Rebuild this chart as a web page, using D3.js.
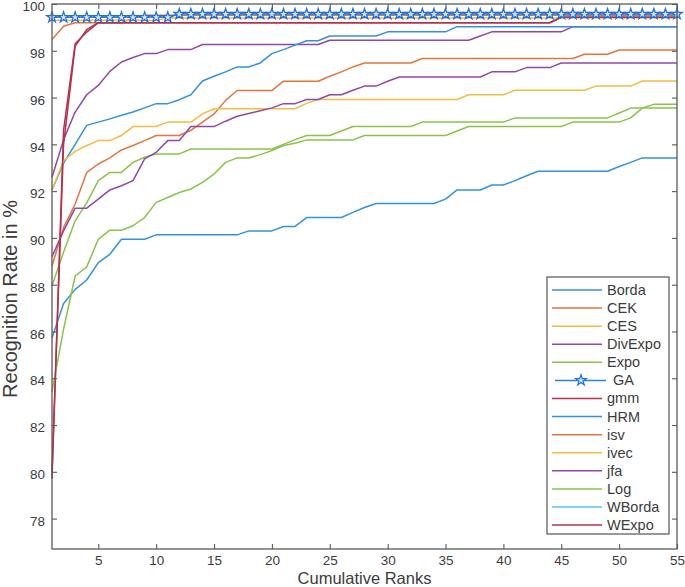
<!DOCTYPE html>
<html><head><meta charset="utf-8">
<script src="https://cdn.jsdelivr.net/npm/d3@7"></script>
<style>body{margin:0;background:#fff}svg{display:block}</style>
</head><body><svg id="c" width="685" height="587"></svg>
<script>
const ranks = d3.range(1, 56);
const seriesNames = ["Borda","CEK","CES","DivExpo","Expo","GA","gmm","HRM","isv","ivec","jfa","Log","WBorda","WExpo"];
const xTicks = [5,10,15,20,25,30,35,40,45,50,55];
const yTicks = [78,80,82,84,86,88,90,92,94,96,98,100];

const Borda = [85.72,87.2,87.8,88.2,88.94,89.3,89.94,89.94,89.94,90.13,
 90.13,90.13,90.13,90.13,90.13,90.13,90.13,90.3,90.3,90.3,
 90.49,90.49,90.87,90.87,90.87,90.87,91.09,91.3,91.47,91.47,
 91.47,91.47,91.47,91.47,91.66,92.05,92.05,92.05,92.26,92.26,
 92.45,92.66,92.85,92.85,92.85,92.85,92.85,92.85,92.85,93.05,
 93.23,93.42,93.42,93.42,93.42];
const CEK = [98.48,99.05,99.2,99.2,99.2,99.2,99.2,99.4,99.52,99.52,
 99.52,99.52,99.52,99.52,99.52,99.52,99.52,99.52,99.52,99.52,
 99.52,99.52,99.52,99.52,99.52,99.52,99.52,99.52,99.52,99.52,
 99.52,99.52,99.52,99.52,99.52,99.52,99.52,99.52,99.52,99.52,
 99.52,99.52,99.52,99.52,99.52,99.52,99.52,99.52,99.52,99.52,
 99.52,99.52,99.52,99.52,99.52];
const CES = [99.3,99.3,99.3,99.3,99.3,99.3,99.3,99.3,99.3,99.3,
 99.4,99.4,99.4,99.4,99.4,99.4,99.4,99.4,99.4,99.4,
 99.4,99.4,99.4,99.4,99.4,99.4,99.4,99.4,99.4,99.4,
 99.4,99.4,99.4,99.4,99.4,99.4,99.4,99.4,99.4,99.4,
 99.4,99.4,99.4,99.4,99.4,99.4,99.4,99.4,99.4,99.4,
 99.4,99.4,99.4,99.4,99.4];
const DivExpo = [92.59,94.2,95.38,96.12,96.52,97.12,97.52,97.71,97.88,97.88,
 98.05,98.05,98.05,98.27,98.27,98.27,98.27,98.27,98.27,98.27,
 98.27,98.27,98.27,98.27,98.45,98.45,98.45,98.45,98.45,98.45,
 98.45,98.45,98.45,98.45,98.45,98.45,98.45,98.63,98.81,98.81,
 98.81,98.81,98.81,98.81,98.81,99.03,99.03,99.03,99.03,99.03,
 99.03,99.03,99.03,99.03,99.03];
const Expo = [87.94,89.4,90.73,91.5,92.45,92.8,92.8,93.23,93.45,93.59,
 93.59,93.59,93.8,93.8,93.8,93.8,93.8,93.8,93.8,93.8,
 94.0,94.2,94.38,94.38,94.38,94.57,94.76,94.76,94.76,94.76,
 94.76,94.76,94.95,94.95,94.95,94.95,94.95,94.95,94.95,94.95,
 95.13,95.13,95.13,95.13,95.13,95.13,95.13,95.13,95.13,95.34,
 95.55,95.55,95.55,95.55,95.55];
const GA = [99.43,99.43,99.43,99.43,99.43,99.43,99.43,99.43,99.43,99.43,
 99.43,99.57,99.57,99.57,99.57,99.57,99.57,99.57,99.57,99.57,
 99.57,99.57,99.57,99.57,99.57,99.57,99.57,99.57,99.57,99.57,
 99.57,99.57,99.57,99.57,99.57,99.57,99.57,99.57,99.57,99.57,
 99.57,99.57,99.57,99.57,99.57,99.57,99.57,99.57,99.57,99.57,
 99.57,99.57,99.57,99.57,99.57];
const gmm = [80.0,94.0,98.2,98.9,99.2,99.2,99.2,99.2,99.2,99.2,
 99.2,99.2,99.2,99.2,99.2,99.2,99.2,99.2,99.2,99.2,
 99.2,99.2,99.2,99.2,99.2,99.2,99.2,99.2,99.2,99.2,
 99.2,99.2,99.2,99.2,99.2,99.2,99.2,99.2,99.2,99.2,
 99.2,99.2,99.2,99.2,99.43,99.43,99.43,99.43,99.43,99.43,
 99.43,99.43,99.43,99.43,99.43];
const HRM = [92.05,93.2,94.0,94.81,94.95,95.09,95.24,95.38,95.56,95.74,
 95.74,95.91,96.12,96.71,96.91,97.1,97.31,97.31,97.48,97.88,
 98.05,98.24,98.43,98.43,98.63,98.63,98.63,98.63,98.63,98.81,
 98.81,98.81,98.81,98.81,98.81,99.03,99.03,99.03,99.03,99.03,
 99.03,99.03,99.03,99.03,99.03,99.03,99.03,99.03,99.03,99.03,
 99.03,99.03,99.03,99.03,99.03];
const isv = [88.8,90.44,91.45,92.8,93.16,93.42,93.76,93.95,94.16,94.38,
 94.38,94.38,94.6,94.95,95.3,95.88,96.3,96.3,96.3,96.3,
 96.7,96.7,96.7,96.7,96.91,97.1,97.31,97.48,97.48,97.48,
 97.48,97.48,97.67,97.67,97.67,97.67,97.67,97.67,97.67,97.67,
 97.67,97.67,97.67,97.67,97.67,97.67,97.85,97.85,97.85,98.03,
 98.03,98.03,98.03,98.03,98.03];
const ivec = [92.05,93.3,93.7,93.95,94.16,94.16,94.38,94.76,94.76,94.76,
 94.95,94.95,94.95,95.3,95.52,95.52,95.52,95.52,95.52,95.52,
 95.52,95.52,95.75,95.92,95.92,95.92,95.92,95.92,95.92,95.92,
 95.92,95.92,95.92,95.92,95.92,95.92,96.12,96.12,96.12,96.12,
 96.31,96.31,96.31,96.31,96.31,96.31,96.31,96.49,96.49,96.49,
 96.49,96.71,96.71,96.71,96.71];
const jfa = [89.2,90.3,91.27,91.27,91.66,92.05,92.23,92.45,93.38,93.66,
 94.16,94.16,94.76,94.76,94.76,94.99,95.2,95.32,95.44,95.56,
 95.74,95.74,95.92,95.92,96.12,96.12,96.31,96.49,96.49,96.7,
 96.88,96.88,96.88,96.88,96.88,96.88,96.88,96.88,97.1,97.1,
 97.1,97.28,97.28,97.28,97.48,97.48,97.48,97.48,97.48,97.48,
 97.48,97.48,97.48,97.48,97.48];
const Log = [83.43,86.1,88.37,88.76,89.94,90.33,90.33,90.52,90.87,91.52,
 91.73,91.94,92.09,92.37,92.73,93.23,93.42,93.42,93.56,93.73,
 93.95,94.05,94.19,94.19,94.19,94.19,94.19,94.38,94.38,94.38,
 94.38,94.38,94.38,94.38,94.38,94.57,94.76,94.76,94.76,94.76,
 94.76,94.76,94.76,94.76,94.76,94.95,94.95,94.95,94.95,94.95,
 95.13,95.55,95.71,95.71,95.71];
const WBorda = [99.43,99.43,99.43,99.43,99.43,99.43,99.43,99.43,99.43,99.43,
 99.43,99.57,99.57,99.57,99.57,99.57,99.57,99.57,99.57,99.57,
 99.57,99.57,99.57,99.57,99.57,99.57,99.57,99.57,99.57,99.57,
 99.57,99.57,99.57,99.57,99.57,99.57,99.57,99.57,99.57,99.57,
 99.57,99.57,99.57,99.57,99.57,99.57,99.57,99.57,99.57,99.57,
 99.57,99.57,99.57,99.57,99.57];
const WExpo = [79.7,94.6,98.3,98.8,99.2,99.2,99.2,99.2,99.2,99.2,
 99.2,99.2,99.2,99.2,99.2,99.2,99.2,99.2,99.2,99.2,
 99.2,99.2,99.2,99.2,99.2,99.2,99.2,99.2,99.2,99.2,
 99.2,99.2,99.2,99.2,99.2,99.2,99.2,99.2,99.2,99.2,
 99.2,99.2,99.2,99.2,99.43,99.43,99.43,99.43,99.43,99.43,
 99.43,99.43,99.43,99.43,99.43];

const seriesValues = [Borda,CEK,CES,DivExpo,Expo,GA,gmm,HRM,isv,ivec,jfa,Log,WBorda,WExpo];
const colors = ["#3392dd","#e5743d","#f4bd3f","#9247a8","#8ac24a","#2f80e0","#b8304b",
                "#3392dd","#e5743d","#f4bd3f","#9247a8","#8ac24a","#55c3ee","#b8304b"];

const svg = d3.select("#c");
const L = 52, R = 677, T = 4, B = 549;
const x = d3.scaleLinear().domain([1,55]).range([L,R]);
const y = d3.scaleLinear().domain([76.7,100]).range([B,T]);
const font = "'Liberation Sans', Arial, Helvetica, sans-serif";
const axisColor = "#5a5a5a";

// lines
const line = d3.line().x((d,i)=>x(ranks[i])).y(d=>y(d));
const order = [12,0,1,2,3,4,6,7,8,9,10,11,13,5]; // GA drawn last (markers on top)
const lg = svg.append("g");
order.forEach(k=>{
  lg.append("path").datum(seriesValues[k]).attr("d", line)
    .attr("fill","none").attr("stroke", colors[k]).attr("stroke-width",1.5)
    .attr("stroke-linejoin","round");
});
const star = d3.symbol().type(d3.symbolStar).size(36);
lg.selectAll("path.star").data(GA).join("path").attr("class","star")
  .attr("d", star).attr("transform",(d,i)=>`translate(${x(ranks[i])},${y(d)})`)
  .attr("fill","#d6e6fb").attr("stroke","#1f6fdc").attr("stroke-width",1.2);

// axes
function styleAxis(g){
  g.select(".domain").remove();
  g.selectAll(".tick line").attr("stroke",axisColor).attr("stroke-width",1.1);
  g.selectAll(".tick text").attr("fill","#3c3c3c").style("font-family",font).style("font-size","13.5px");
}
svg.append("g").attr("transform",`translate(0,${B})`)
  .call(d3.axisBottom(x).tickValues(xTicks).tickSize(-5).tickPadding(6)).call(styleAxis);
svg.append("g").attr("transform",`translate(0,${T})`)
  .call(d3.axisTop(x).tickValues(xTicks).tickSize(-5).tickFormat("")).call(styleAxis);
const yax = svg.append("g").attr("transform",`translate(${L},0)`)
  .call(d3.axisLeft(y).tickValues(yTicks).tickSize(-5).tickPadding(7)).call(styleAxis);
yax.selectAll(".tick text").attr("dy","0.5em");
svg.append("g").attr("transform",`translate(${R},0)`)
  .call(d3.axisRight(y).tickValues(yTicks).tickSize(-5).tickFormat("")).call(styleAxis);
svg.append("rect").attr("x",L).attr("y",T).attr("width",R-L).attr("height",B-T)
  .attr("fill","none").attr("stroke",axisColor).attr("stroke-width",1.3);

// axis labels
svg.append("text").attr("x",(L+R)/2).attr("y",584).attr("text-anchor","middle")
  .style("font-family",font).style("font-size","16.5px").attr("fill","#3c3c3c").text("Cumulative Ranks");
svg.append("text").attr("transform",`translate(17,299) rotate(-90)`).attr("text-anchor","middle")
  .style("font-family",font).style("font-size","20px").attr("fill","#3c3c3c").text("Recognition Rate in %");

// legend
const lgx = 547, lgy = 277, lgw = 122, lgh = 257;
const leg = svg.append("g");
leg.append("rect").attr("x",lgx).attr("y",lgy).attr("width",lgw).attr("height",lgh)
  .attr("fill","#fff").attr("stroke","#444").attr("stroke-width",1.1);
seriesNames.forEach((name,i)=>{
  const cy = 290 + i*18.08;
  const isGA = name==="GA";
  leg.append("line").attr("x1",isGA?555:552).attr("x2",isGA?606:602).attr("y1",cy).attr("y2",cy)
    .attr("stroke",colors[i]).attr("stroke-width",1.5);
  if(isGA){
    leg.append("path").attr("d",star).attr("transform",`translate(581,${cy})`)
      .attr("fill","#d6e6fb").attr("stroke","#1f6fdc").attr("stroke-width",1.2);
  }
  leg.append("text").attr("x",isGA?613:607).attr("y",cy+5)
    .style("font-family",font).style("font-size","14.5px").attr("fill","#3c3c3c").text(name);
});
</script></body></html>
